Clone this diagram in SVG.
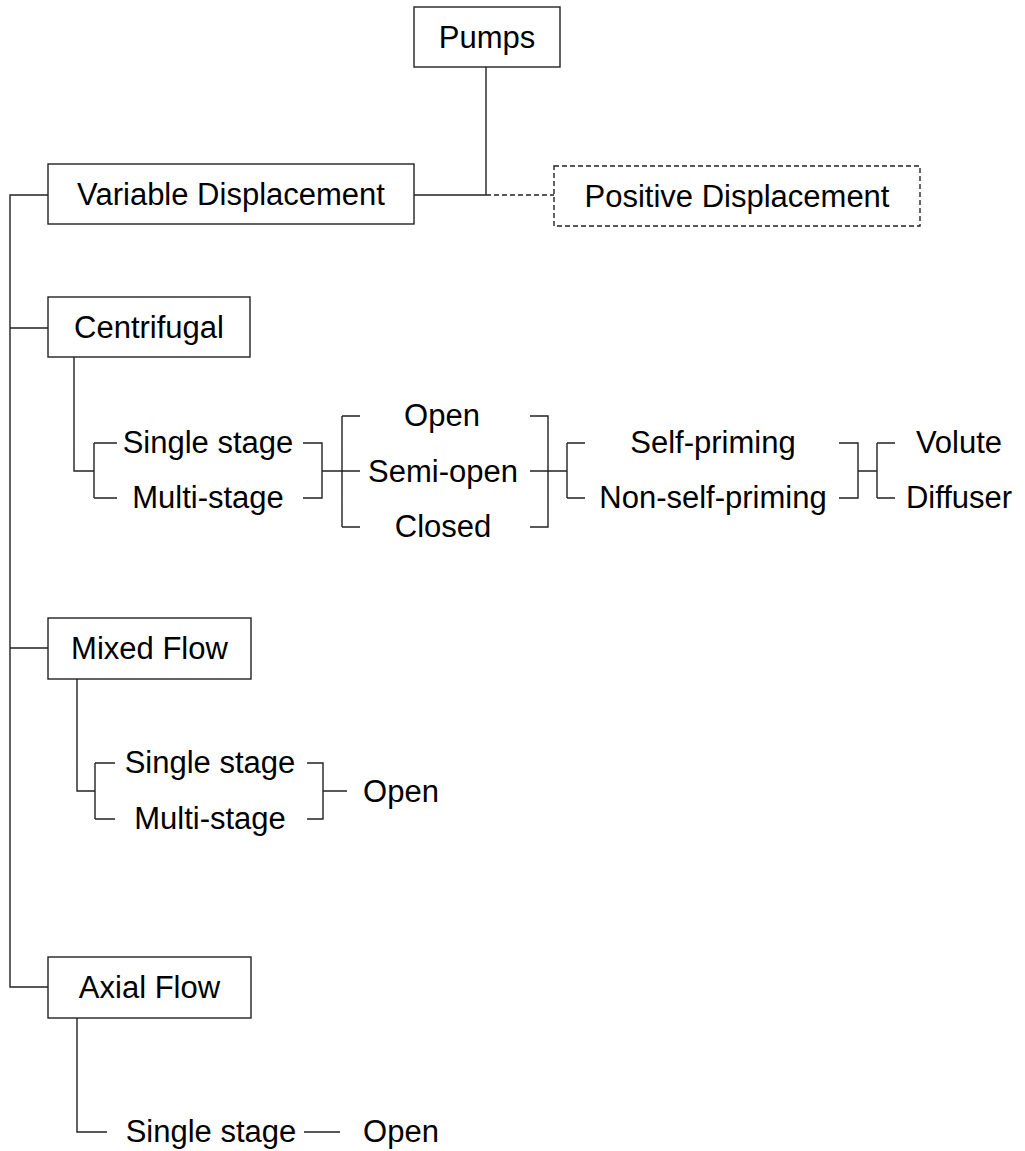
<svg xmlns="http://www.w3.org/2000/svg" width="1025" height="1151" viewBox="0 0 1025 1151">
<style>
.box{fill:#fff;stroke:#222;stroke-width:1.4}
.dbox{fill:#fff;stroke:#222;stroke-width:1.4;stroke-dasharray:5,3}
.ln{fill:none;stroke:#222;stroke-width:1.4}
.dln{fill:none;stroke:#222;stroke-width:1.4;stroke-dasharray:5,3}
text{font-family:"Liberation Sans",Arial,sans-serif;font-size:31px;fill:#000;text-anchor:middle}
</style>
<rect width="1025" height="1151" fill="#fff"/>
<g id="connectors">
<path class="ln" d="M486,67 V195 M414,195 H486"/>
<path class="dln" d="M486,195 H554"/>
<path class="ln" d="M48,195 H10 V987 H48 M10,328 H48 M10,648 H48"/>
<path class="ln" d="M74,357 V471 H94 M94,443 V498 M94,443 H117 M94,498 H117"/>
<path class="ln" d="M303,443 H322 V498 H303 M322,471 H360 M342,416 V527 M342,416 H360 M342,527 H360"/>
<path class="ln" d="M530,416 H548 V527 H530 M530,471 H567 M567,443 V498 M567,443 H585 M567,498 H585"/>
<path class="ln" d="M839,443 H858 V498 H839 M858,471 H877 M877,443 V498 M877,443 H895 M877,498 H895"/>
<path class="ln" d="M77,679 V791 H95 M95,763 V819 M95,763 H115 M95,819 H115"/>
<path class="ln" d="M307,763 H323 V819 H307 M323,791 H347"/>
<path class="ln" d="M77,1018 V1132 H107 M304,1132 H340"/>
</g>
<g id="pumps"><rect class="box" x="414" y="7" width="146" height="60"/><text x="487" y="48">Pumps</text></g>
<g id="variable"><rect class="box" x="48" y="164" width="366" height="60"/><text x="231" y="205">Variable Displacement</text></g>
<g id="positive"><rect class="dbox" x="554" y="166" width="366" height="60"/><text x="737" y="207">Positive Displacement</text></g>
<g id="centrifugal"><rect class="box" x="48" y="297" width="202" height="60"/><text x="149" y="338">Centrifugal</text></g>
<g id="c-single"><text x="208" y="453">Single stage</text></g>
<g id="c-multi"><text x="208" y="508">Multi-stage</text></g>
<g id="c-open"><text x="442" y="426">Open</text></g>
<g id="c-semi"><text x="443" y="482">Semi-open</text></g>
<g id="c-closed"><text x="443" y="537">Closed</text></g>
<g id="c-self"><text x="713" y="453">Self-priming</text></g>
<g id="c-nonself"><text x="713" y="508">Non-self-priming</text></g>
<g id="c-volute"><text x="959" y="453">Volute</text></g>
<g id="c-diffuser"><text x="959" y="508">Diffuser</text></g>
<g id="mixed"><rect class="box" x="48" y="618" width="203" height="61"/><text x="149.5" y="659">Mixed Flow</text></g>
<g id="m-single"><text x="210" y="773">Single stage</text></g>
<g id="m-multi"><text x="210" y="829">Multi-stage</text></g>
<g id="m-open"><text x="401" y="802">Open</text></g>
<g id="axial"><rect class="box" x="48" y="957" width="203" height="61"/><text x="149.5" y="998">Axial Flow</text></g>
<g id="a-single"><text x="211" y="1142">Single stage</text></g>
<g id="a-open"><text x="401" y="1142">Open</text></g>
</svg>
